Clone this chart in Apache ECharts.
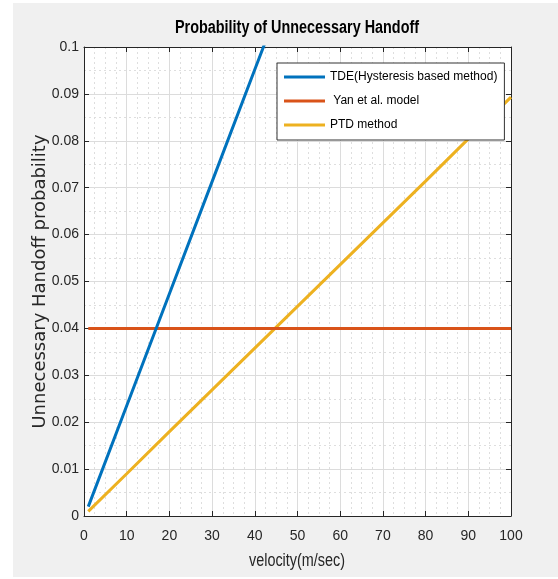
<!DOCTYPE html>
<html>
<head>
<meta charset="utf-8">
<script src="https://cdn.jsdelivr.net/npm/echarts@6/dist/echarts.min.js"></script>
<style>
html,body{margin:0;padding:0;background:#fff;}
#chart{width:558px;height:579px;}
</style>
</head>
<body>
<div id="chart"></div>
<script>
// ---- data ----
const velocity = [1, 10, 20, 30, 40, 50, 60, 70, 80, 90, 100];
const tdeValues = [0.002, 0.0235, 0.0474, 0.0713, 0.0952, 0.119, 0.143, 0.167, 0.191, 0.215, 0.239];
const yanValues = [0.04, 0.04, 0.04, 0.04, 0.04, 0.04, 0.04, 0.04, 0.04, 0.04, 0.04];
const ptdValues = [0.001, 0.009, 0.018, 0.0269, 0.0358, 0.0447, 0.0536, 0.0625, 0.0714, 0.0804, 0.0893];
const seriesNames = ['TDE(Hysteresis based method)', ' Yan et al. model', 'PTD method'];
const xTickLabels = ['0','10','20','30','40','50','60','70','80','90','100'];
const yTickLabels = ['0','0.01','0.02','0.03','0.04','0.05','0.06','0.07','0.08','0.09','0.1'];
const titleText = 'Probability of Unnecessary Handoff';
const xName = 'velocity(m/sec)';
const yName = 'Unnecessary Handoff probability';

const SANS = "'Liberation Sans', Arial, sans-serif";
const AX = '#262626';
const colors = ['#0072BD', '#D95319', '#EDB120'];

function pairs(vals){ return velocity.map((v,i)=>[v, vals[i]]); }

const chart = echarts.init(document.getElementById('chart'), null, {renderer:'canvas'});

const baseX = {
  type:'value', min:0, max:100, interval:10,
  axisLine:{show:true, onZero:false, lineStyle:{color:AX, width:1}},
  axisTick:{show:true, inside:true, length:5, lineStyle:{color:AX}},
  minorTick:{show:false, splitNumber:4},
};
const baseY = {
  type:'value', min:0, max:0.1, interval:0.01,
  axisLine:{show:true, onZero:false, lineStyle:{color:AX, width:1}},
  axisTick:{show:true, inside:true, length:5, lineStyle:{color:AX}},
  minorTick:{show:false, splitNumber:2},
};

const option = {
  animation:false,
  backgroundColor:'#fff',
  color: colors,
  graphic:[
    {type:'rect', z:-100, silent:true, shape:{x:13, y:3, width:545, height:574}, style:{fill:'#f0f0f0'}},
    {type:'text', x:297, y:28, scaleX:0.8, silent:true, style:{text:titleText, font:"bold 18px " + SANS, fill:'#000', textAlign:'center', textVerticalAlign:'middle'}},
    {type:'text', x:297, y:561, scaleX:0.8, silent:true, style:{text:xName, font:"18px " + SANS, fill:AX, textAlign:'center', textVerticalAlign:'middle'}}
  ],
  grid:{left:84, top:47, right:47, bottom:63, show:true, backgroundColor:'#fff', borderWidth:0},
  legend:{
    orient:'vertical', left:277, top:63,
    padding:[7,7,8,7], itemGap:10, itemWidth:41, itemHeight:3, icon:'rect',
    backgroundColor:'#fff', borderColor:'#333', borderWidth:1, borderRadius:0,
    textStyle:{fontFamily:SANS, fontSize:12, color:'#000', lineHeight:14},
    data: seriesNames
  },
  xAxis:[
    Object.assign({}, baseX, {
      position:'bottom',
      axisLabel:{show:true, margin:13, color:AX, fontFamily:SANS, fontSize:14, formatter:(v)=>xTickLabels[Math.round(v/10)]},
      splitLine:{show:true, lineStyle:{color:'#dcdcdc', width:1}},
      minorSplitLine:{show:true, lineStyle:{color:'#dedede', width:1, type:[2,3]}}
    }),
    Object.assign({}, baseX, {
      position:'top',
      axisLabel:{show:false}, splitLine:{show:false}
    })
  ],
  yAxis:[
    Object.assign({}, baseY, {
      position:'left',
      axisLabel:{show:true, margin:5, color:AX, fontFamily:SANS, fontSize:14, formatter:(v)=>yTickLabels[Math.round(v*100)]},
      splitLine:{show:true, lineStyle:{color:'#dcdcdc', width:1}},
      minorSplitLine:{show:true, lineStyle:{color:'#dedede', width:1, type:[2,3]}},
      name:yName, nameLocation:'middle', nameGap:35, nameMoveOverlap:false,
      nameTextStyle:{fontFamily:"'DejaVu Sans', sans-serif", fontSize:18, color:AX}
    }),
    Object.assign({}, baseY, {
      position:'right',
      axisLabel:{show:false}, splitLine:{show:false}
    })
  ],
  series:[
    {name:seriesNames[0], type:'line', data:pairs(tdeValues), symbol:'none', clip:true, lineStyle:{width:3, color:colors[0]}, itemStyle:{color:colors[0]}, z:3},
    {name:seriesNames[1], type:'line', data:pairs(yanValues), symbol:'none', clip:true, lineStyle:{width:3, color:colors[1]}, itemStyle:{color:colors[1]}, z:2},
    {name:seriesNames[2], type:'line', data:pairs(ptdValues), symbol:'none', clip:true, lineStyle:{width:3, color:colors[2]}, itemStyle:{color:colors[2]}, z:1}
  ]
};
chart.setOption(option);
</script>
</body>
</html>
